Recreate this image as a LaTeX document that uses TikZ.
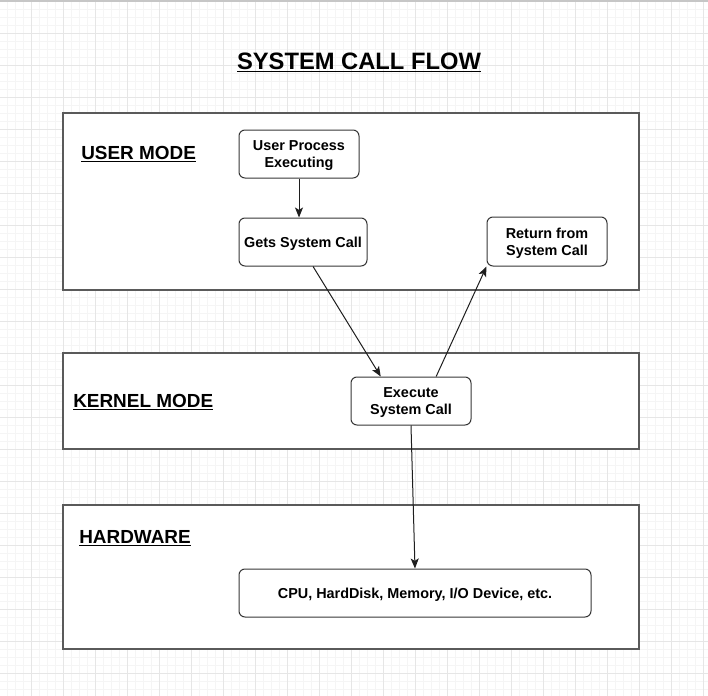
\documentclass[tikz,border=0pt]{standalone}
\usepackage{fontspec}
\setmainfont{Liberation Sans}
\usetikzlibrary{arrows.meta,calc}
\definecolor{gridminor}{HTML}{F5F5F5}
\definecolor{gridmajor}{HTML}{E6E6E6}
\definecolor{boxline}{HTML}{5A5A5A}
\definecolor{nodeline}{HTML}{363636}
\definecolor{arrowcol}{HTML}{1E1E1E}
\tikzset{
  region/.style={draw=boxline, line width=0.9pt, fill=white, inner sep=0pt},
  proc/.style={draw=nodeline, line width=0.75pt, fill=white, rounded corners=4.5pt,
    minimum height=36pt, inner sep=0pt},
  proctext/.style={align=center, inner sep=0pt, yshift=-1.2pt,
    font=\fontsize{10.8}{12.8}\selectfont\bfseries},
  modelabel/.style={anchor=west, inner sep=0pt, font=\fontsize{14.2}{16}\selectfont\bfseries},
  flow/.style={draw=arrowcol, line width=0.75pt, -{Stealth[length=7.5pt,width=6pt,inset=1.8pt]}}
}
\begin{document}
\begin{tikzpicture}[x=0.75pt,y=-0.75pt]
\useasboundingbox (0,0) rectangle (708,696);
\fill[white] (0,0) rectangle (708,696);
% grid
\foreach \i in {0,...,89} {
  \draw[gridminor, line width=0.5pt] ({\i*8-0.5},0) -- ({\i*8-0.5},696);
  \draw[gridminor, line width=0.5pt] (0,{\i*8+1}) -- (708,{\i*8+1});
}
\foreach \i in {0,...,22} {
  \draw[gridmajor, line width=0.7pt] ({\i*32-0.5},0) -- ({\i*32-0.5},696);
  \draw[gridmajor, line width=0.7pt] (0,{\i*32+1}) -- (708,{\i*32+1});
}
\draw[gray!45, line width=1.2pt] (0,0.8) -- (708,0.8);

% title
\node[inner sep=0pt, font=\fontsize{17.8}{20}\selectfont\bfseries] (title) at (359,62.5) {\underline{SYSTEM CALL FLOW}};

% regions
\node[region, minimum width=432pt, minimum height=132.75pt] (userbox) at (351,201.5) {};
\node[region, minimum width=432pt, minimum height=72pt] (kernelbox) at (351,401) {};
\node[region, minimum width=432pt, minimum height=108pt] (hwbox) at (351,577) {};

\node[modelabel] (userlbl) at (81,154.5) {\underline{USER MODE}};
\node[modelabel] (kernellbl) at (73,402.5) {\underline{KERNEL MODE}};
\node[modelabel] (hwlbl) at (79,538.5) {\underline{HARDWARE}};

% process boxes
\node[proc, minimum width=90pt] (up) at (299,154) {};
\node[proc, minimum width=96pt] (gets) at (303,242) {};
\node[proc, minimum width=90pt, minimum height=36.75pt] (ret) at (547,241.5) {};
\node[proc, minimum width=90pt] (exec) at (411,401) {};
\node[proc, minimum width=264pt] (cpu) at (415,593) {};

% texts
\node[proctext] (upt) at (up.center) {User Process\\Executing};
\node[proctext] (getst) at (gets.center) {Gets System Call};
\node[proctext] (rett) at (ret.center) {Return from\\System Call};
\node[proctext] (exect) at (exec.center) {Execute\\System Call};
\node[proctext] (cput) at (cpu.center) {CPU, HardDisk, Memory, I/O Device, etc.};

% connectors
\draw[flow] (up.south) -- (up.south |- gets.north);
\draw[flow] ($(gets.south west)!0.578!(gets.south east)$) -- ($(exec.north west)!0.25!(exec.north east)$);
\draw[flow] ($(exec.north west)!0.708!(exec.north east)$) -- (ret.south west);
\draw[flow] (exec.south) -- (cpu.north);
\end{tikzpicture}
\end{document}
